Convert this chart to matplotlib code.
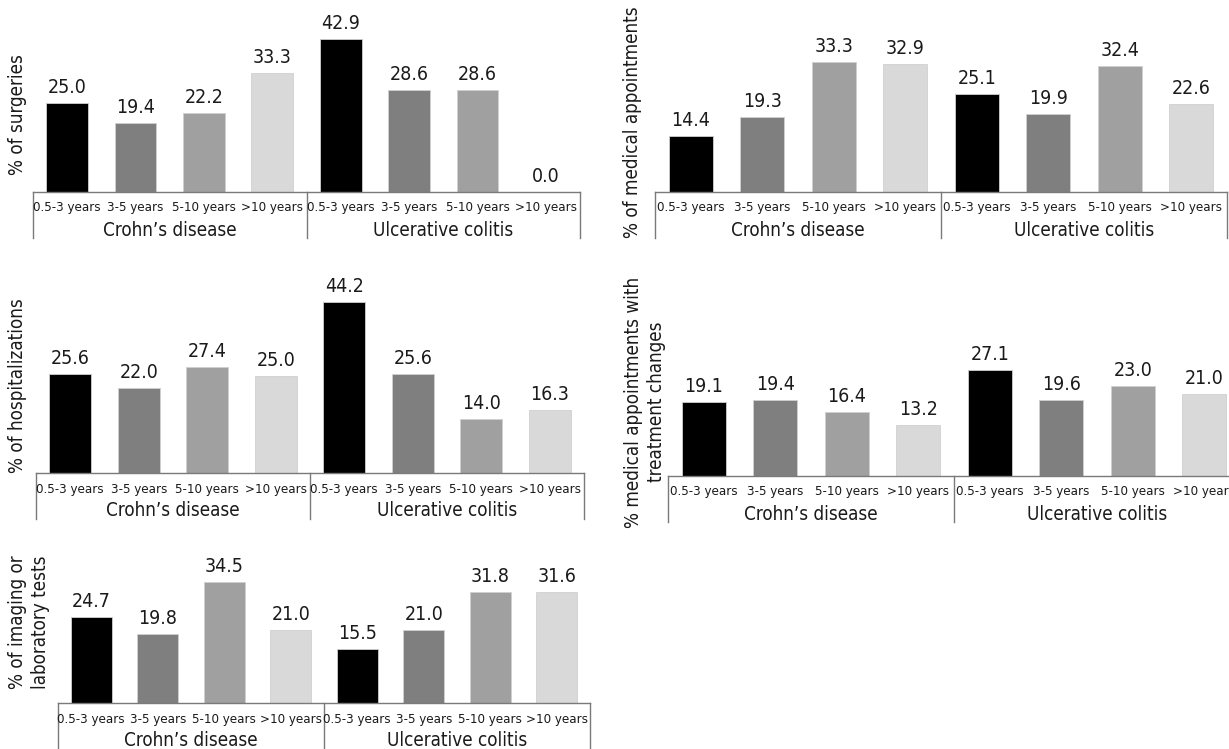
import matplotlib
matplotlib.use("Agg")
import matplotlib.pyplot as plt
import matplotlib.transforms as mtransforms

W, H, DPI = 1229, 749, 100

durations = ["0.5-3 years", "3-5 years", "5-10 years", ">10 years"]
groups = ["Crohn\u2019s disease", "Ulcerative colitis"]
bar_colors = ["#000000", "#7f7f7f", "#a0a0a0", "#d9d9d9"]

surgeries_cd = [25.0, 19.4, 22.2, 33.3]
surgeries_uc = [42.9, 28.6, 28.6, 0.0]
appointments_cd = [14.4, 19.3, 33.3, 32.9]
appointments_uc = [25.1, 19.9, 32.4, 22.6]
hospital_cd = [25.6, 22.0, 27.4, 25.0]
hospital_uc = [44.2, 25.6, 14.0, 16.3]
treatment_cd = [19.1, 19.4, 16.4, 13.2]
treatment_uc = [27.1, 19.6, 23.0, 21.0]
imaging_cd = [24.7, 19.8, 34.5, 21.0]
imaging_uc = [15.5, 21.0, 31.8, 31.6]

plt.rcParams['font.family'] = ['DejaVu Sans']
FS = dict(fontstretch='condensed')

fig = plt.figure(figsize=(W / DPI, H / DPI), dpi=DPI)
LINE = "#7a7a7a"


def panel(left, right, baseline, pxunit, ymax, cd, uc, ylabel, ylx, yly, depth=46):
    width = right - left
    height = ymax * pxunit
    ax = fig.add_axes([left / W, (H - baseline) / H, width / W, height / H])
    vals = cd + uc
    xs = list(range(len(vals)))
    ax.bar(xs, vals, width=0.61, color=bar_colors * 2, edgecolor="#d0d0d0",
           linewidth=0.6)
    ax.set_xlim(-0.5, len(vals) - 0.5)
    ax.set_ylim(0, ymax)
    for s in ax.spines.values():
        s.set_visible(False)
    ax.set_xticks([])
    ax.set_yticks([])
    ax.patch.set_alpha(0)
    ax.axhline(0, color=LINE, lw=1.0, clip_on=False)
    trans = mtransforms.blended_transform_factory(ax.transData, ax.transAxes)
    for xv in (-0.5, 3.5, 7.5):
        ax.plot([xv, xv], [0, -depth / height], transform=trans, clip_on=False,
                color=LINE, lw=1.0)
    for i, v in enumerate(vals):
        ax.annotate(f"{v:.1f}", (i, v), xytext=(0, 6), textcoords='offset pixels',
                    ha='center', va='bottom', fontsize=14, color="#1a1a1a", **FS)
    labels = durations * 2
    for i, lab in enumerate(labels):
        ax.annotate(lab, (i, 0), xytext=(0, -16), textcoords='offset pixels',
                    ha='center', va='center', fontsize=9.5, color="#1a1a1a", **FS)
    for g, name in enumerate(groups):
        ax.annotate(name, (1.5 + 4 * g, 0), xytext=(0, -38), textcoords='offset pixels',
                    ha='center', va='center', fontsize=13.5, color="#1a1a1a", **FS)
    fig.text(ylx / W, 1 - yly / H, ylabel, rotation=90, ha='center', va='center',
             fontsize=13.5, multialignment='center', linespacing=1.3,
             color="#1a1a1a", **FS)
    return ax


panel(33, 580, 192, 3.57, 50, surgeries_cd, surgeries_uc,
      "% of surgeries", 18, 115)
panel(655, 1227, 192, 3.9, 45, appointments_cd, appointments_uc,
      "% of medical appointments", 632, 122)
panel(36, 584, 473, 3.87, 48, hospital_cd, hospital_uc,
      "% of hospitalizations", 18, 386)
panel(668, 1240, 476, 3.9, 40, treatment_cd, treatment_uc,
      "% medical appointments with\ntreatment changes", 645, 402)
panel(58, 590, 703, 3.5, 45, imaging_cd, imaging_uc,
      "% of imaging or\nlaboratory tests", 29, 622)

fig.savefig("out.png", dpi=DPI)
